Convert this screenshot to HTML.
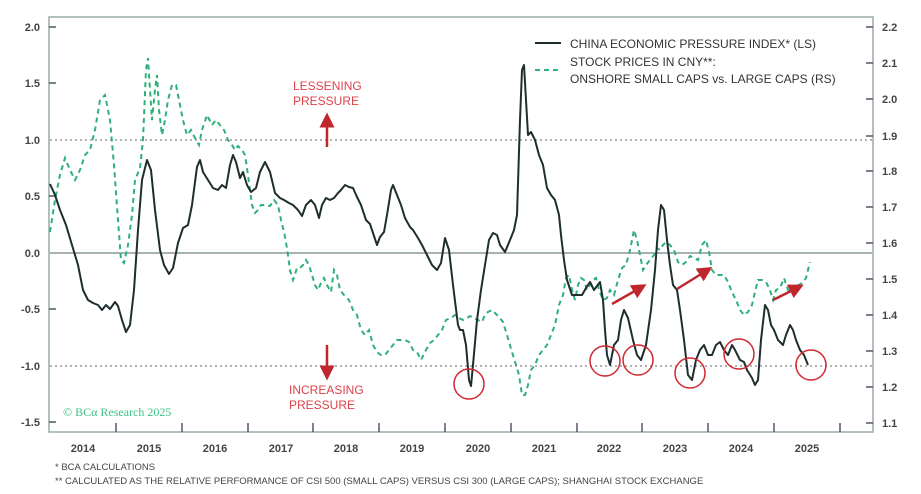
<!DOCTYPE html>
<html><head><meta charset="utf-8"><style>
body{margin:0;background:#fff;}
svg{display:block;font-family:"Liberation Sans",sans-serif;}
</style></head><body>
<svg width="921" height="494" viewBox="0 0 921 494">
<rect x="49" y="17" width="824" height="415" fill="none" stroke="#9aa" stroke-width="1.5"/>
<g stroke="#999" stroke-width="1.5" stroke-dasharray="2,3">
<line x1="50" y1="140" x2="872" y2="140"/><line x1="50" y1="366" x2="872" y2="366"/></g>
<line x1="50" y1="253" x2="872" y2="253" stroke="#8a9a9a" stroke-width="1.5"/>
<g font-size="11" fill="#444" font-weight="bold">
<text x="40" y="31" text-anchor="end">2.0</text><text x="40" y="87" text-anchor="end">1.5</text>
<text x="40" y="144" text-anchor="end">1.0</text><text x="40" y="200" text-anchor="end">0.5</text>
<text x="40" y="257" text-anchor="end">0.0</text><text x="40" y="313" text-anchor="end">-0.5</text>
<text x="40" y="370" text-anchor="end">-1.0</text><text x="40" y="426" text-anchor="end">-1.5</text>
<text x="882" y="31">2.2</text><text x="882" y="67">2.1</text><text x="882" y="103">2.0</text>
<text x="882" y="140">1.9</text><text x="882" y="175">1.8</text><text x="882" y="211">1.7</text>
<text x="882" y="247">1.6</text><text x="882" y="283">1.5</text><text x="882" y="319">1.4</text>
<text x="882" y="355">1.3</text><text x="882" y="391">1.2</text><text x="882" y="427">1.1</text>
</g>
<g font-size="11" fill="#444" font-weight="bold" text-anchor="middle">
<text x="83" y="452">2014</text><text x="149" y="452">2015</text><text x="215" y="452">2016</text>
<text x="281" y="452">2017</text><text x="346" y="452">2018</text><text x="412" y="452">2019</text>
<text x="478" y="452">2020</text><text x="544" y="452">2021</text><text x="609" y="452">2022</text>
<text x="675" y="452">2023</text><text x="741" y="452">2024</text><text x="807" y="452">2025</text>
</g>
<g stroke="#556" stroke-width="1.5">
<path d="M116 432v-9M182 432v-9M248 432v-9M313 432v-9M379 432v-9M445 432v-9M511 432v-9M577 432v-9M642 432v-9M708 432v-9M774 432v-9M840 432v-9"/>
<path d="M49 27h7M49 83h7M49 196h7M49 309h7M49 422h7M866 27h7M866 63h7M866 99h7M866 136h7M866 171h7M866 207h7M866 243h7M866 279h7M866 315h7M866 351h7M866 387h7M866 423h7"/>
</g>
<polyline fill="none" stroke="#2fb07a" stroke-width="2" stroke-dasharray="5,4" points="50,232 55,200 60,175 65,158 70,170 75,180 80,170 85,155 90,150 95,130 100,100 105,95 110,120 114,165 118,220 121,260 124,263 128,245 132,215 135,180 140,168 143,140 146,70 148,58 150,90 152,120 155,90 157,75 159,110 162,135 165,120 168,100 172,85 176,85 179,100 183,120 187,135 191,130 195,138 199,145 202,130 207,115 212,125 216,120 220,125 224,130 228,140 232,145 235,150 238,146 242,150 245,155 248,175 252,205 255,213 258,210 261,205 265,205 270,206 274,200 278,205 281,220 284,232 287,248 290,270 293,280 297,268 300,268 303,265 306,260 309,265 312,275 315,285 318,290 321,283 324,278 327,285 331,292 334,270 337,275 340,290 344,295 349,300 353,310 357,315 361,330 365,335 369,330 373,345 377,352 381,355 385,355 389,350 393,345 397,340 401,340 405,340 409,342 413,350 417,352 421,360 426,350 430,343 434,340 438,335 442,330 446,320 451,318 455,315 459,318 463,320 467,318 470,316 474,318 478,320 482,322 485,315 488,312 492,310 495,313 499,317 503,322 507,335 512,352 516,365 519,375 522,395 525,395 528,385 531,370 535,365 539,355 543,350 547,345 551,335 555,325 559,305 563,295 566,278 569,275 572,290 575,300 578,285 581,278 584,280 587,290 590,285 593,280 596,278 599,290 603,300 607,298 610,290 614,295 618,280 622,268 626,265 630,250 634,230 637,240 640,255 643,270 646,265 650,260 654,255 657,248 660,250 663,245 666,242 670,245 674,250 678,262 682,265 686,262 690,256 694,258 698,260 702,245 706,240 709,252 712,270 716,275 720,275 724,275 728,282 732,292 736,300 740,310 744,315 748,312 752,305 755,292 758,280 762,280 766,282 770,290 773,300 776,290 780,288 784,278 788,290 792,292 795,285 799,285 802,283 806,278 810,262"/>
<polyline fill="none" stroke="#1e2e2e" stroke-width="2" stroke-linejoin="round" points="50,184 55,195 60,210 66,225 72,245 78,265 83,290 88,300 93,303 98,305 102,310 106,305 110,309 115,302 118,306 122,320 126,332 130,325 134,290 138,230 142,180 147,160 151,170 155,210 160,250 164,265 169,274 173,268 178,243 183,228 188,225 192,205 197,167 200,160 203,172 208,180 213,188 218,190 222,185 226,188 230,165 233,155 236,162 240,178 243,172 247,185 251,192 256,188 260,172 265,162 270,172 275,193 280,198 284,200 289,203 293,205 298,210 302,216 306,205 311,200 315,205 319,218 322,205 326,198 330,200 334,198 338,193 341,190 345,185 349,187 353,188 357,197 361,205 366,220 370,224 373,233 377,245 380,237 384,232 387,215 391,190 393,185 397,195 401,205 405,218 410,227 413,230 418,238 422,245 427,255 432,265 437,270 441,263 445,238 449,250 453,285 458,325 460,330 463,330 466,345 469,380 471,386 473,365 477,320 481,290 485,265 489,240 493,233 497,235 500,245 505,252 510,240 514,230 517,215 520,120 522,70 524,65 526,100 528,135 531,132 535,140 539,155 543,165 547,188 551,195 555,200 559,215 561,235 564,260 567,280 572,295 577,295 582,295 586,288 590,282 594,290 597,286 600,282 603,300 605,330 607,355 610,365 614,345 618,340 621,320 624,310 628,318 633,340 637,355 641,360 646,345 651,310 655,270 658,230 661,205 664,210 667,240 670,265 673,285 677,290 680,310 684,340 688,375 692,380 696,360 700,350 704,345 708,355 712,355 716,345 720,342 724,350 728,355 732,345 735,350 740,360 744,362 747,370 752,378 755,385 758,380 761,340 765,305 768,310 771,325 774,330 778,340 783,345 786,335 790,325 793,330 796,340 800,350 804,355 808,365"/>
<g fill="none" stroke="#d0282e" stroke-width="1.5">
<circle cx="469" cy="384" r="15"/><circle cx="605" cy="361" r="15"/><circle cx="638" cy="360" r="15"/>
<circle cx="690" cy="373" r="15"/><circle cx="739" cy="354" r="15"/><circle cx="811" cy="365" r="15"/>
</g>
<defs><marker id="ah" markerWidth="6" markerHeight="6" refX="3" refY="3" orient="auto" markerUnits="strokeWidth"><path d="M0,0L6,3L0,6z" fill="#c0262e"/></marker></defs>
<g stroke="#c0262e" stroke-width="2.5" marker-end="url(#ah)">
<line x1="612" y1="304" x2="640" y2="288"/><line x1="677" y1="289" x2="706" y2="271"/><line x1="773" y1="300" x2="797" y2="288"/>
<line x1="327" y1="147" x2="327" y2="120"/><line x1="327" y1="345" x2="327" y2="373"/>
</g>
<g font-size="12" fill="#e0404a"><text x="293" y="90">LESSENING</text><text x="293" y="105">PRESSURE</text>
<text x="289" y="394">INCREASING</text><text x="289" y="409">PRESSURE</text></g>
<text x="63" y="416" font-size="12" fill="#3cc08a" font-family="Liberation Serif,serif">© BCα Research 2025</text>
<line x1="535" y1="43" x2="561" y2="43" stroke="#1e2e2e" stroke-width="2"/>
<line x1="535" y1="70" x2="561" y2="70" stroke="#2fb07a" stroke-width="2" stroke-dasharray="5,4"/>
<g font-size="12" fill="#333"><text x="570" y="48">CHINA ECONOMIC PRESSURE INDEX* (LS)</text>
<text x="570" y="66">STOCK PRICES IN CNY**:</text><text x="570" y="83">ONSHORE SMALL CAPS vs. LARGE CAPS (RS)</text></g>
<g font-size="9.5" fill="#444"><text x="55" y="470">*  BCA CALCULATIONS</text>
<text x="55" y="484">** CALCULATED AS THE RELATIVE PERFORMANCE OF CSI 500 (SMALL CAPS) VERSUS CSI 300 (LARGE CAPS); SHANGHAI STOCK EXCHANGE</text></g>
</svg>
</body></html>
